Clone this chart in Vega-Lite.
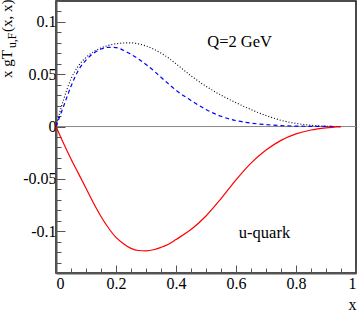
{
  "$schema": "https://vega.github.io/schema/vega-lite/v6.json",
  "width": 300,
  "height": 272,
  "autosize": "none",
  "padding": {"left": 56, "top": 1, "right": 4, "bottom": 39},
  "config": {
    "view": {"stroke": "#111", "strokeWidth": 1.5},
    "font": "Liberation Serif",
    "axis": {
      "grid": false,
      "domainColor": "#555",
      "domainWidth": 2,
      "tickColor": "#555",
      "tickWidth": 1,
      "labelFont": "Liberation Serif",
      "labelFontSize": 16,
      "labelColor": "#000",
      "labelOverlap": false,
      "titleFont": "Liberation Serif",
      "titleFontWeight": "normal",
      "titleFontSize": 16,
      "titleColor": "#000"
    }
  },
  "datasets": {
    "black": [
      {"x": 0, "y": 0}, {"x": 0.025, "y": 0.0255}, {"x": 0.05, "y": 0.0455}, {"x": 0.075, "y": 0.058},
      {"x": 0.1, "y": 0.066}, {"x": 0.125, "y": 0.0715}, {"x": 0.15, "y": 0.0752}, {"x": 0.175, "y": 0.0776},
      {"x": 0.2, "y": 0.0791}, {"x": 0.225, "y": 0.0799}, {"x": 0.25, "y": 0.08}, {"x": 0.275, "y": 0.079},
      {"x": 0.3, "y": 0.077}, {"x": 0.325, "y": 0.074}, {"x": 0.35, "y": 0.0702}, {"x": 0.375, "y": 0.0655},
      {"x": 0.4, "y": 0.06}, {"x": 0.45, "y": 0.0485}, {"x": 0.5, "y": 0.0385}, {"x": 0.55, "y": 0.03},
      {"x": 0.6, "y": 0.0228}, {"x": 0.65, "y": 0.0162}, {"x": 0.7, "y": 0.0105}, {"x": 0.75, "y": 0.006},
      {"x": 0.8, "y": 0.003}, {"x": 0.85, "y": 0.0012}, {"x": 0.9, "y": 0.0003}, {"x": 0.95, "y": 0}
    ],
    "blue": [
      {"x": 0, "y": 0}, {"x": 0.025, "y": 0.0192}, {"x": 0.05, "y": 0.0385}, {"x": 0.075, "y": 0.054},
      {"x": 0.1, "y": 0.0635}, {"x": 0.125, "y": 0.07}, {"x": 0.15, "y": 0.0741}, {"x": 0.175, "y": 0.0757},
      {"x": 0.2, "y": 0.0755}, {"x": 0.225, "y": 0.0729}, {"x": 0.25, "y": 0.069}, {"x": 0.275, "y": 0.0646},
      {"x": 0.3, "y": 0.0593}, {"x": 0.325, "y": 0.0535}, {"x": 0.35, "y": 0.0471}, {"x": 0.375, "y": 0.0408},
      {"x": 0.4, "y": 0.0347}, {"x": 0.45, "y": 0.025}, {"x": 0.5, "y": 0.0163}, {"x": 0.55, "y": 0.0098},
      {"x": 0.6, "y": 0.0057}, {"x": 0.65, "y": 0.0033}, {"x": 0.7, "y": 0.0018}, {"x": 0.75, "y": 0.0009},
      {"x": 0.8, "y": 0.0004}, {"x": 0.85, "y": 0.0002}, {"x": 0.9, "y": 0.0001}, {"x": 0.95, "y": 0}
    ],
    "red": [
      {"x": 0, "y": 0}, {"x": 0.025, "y": -0.016}, {"x": 0.05, "y": -0.031}, {"x": 0.075, "y": -0.045},
      {"x": 0.1, "y": -0.059}, {"x": 0.125, "y": -0.073}, {"x": 0.15, "y": -0.086}, {"x": 0.175, "y": -0.097},
      {"x": 0.2, "y": -0.106}, {"x": 0.225, "y": -0.112}, {"x": 0.25, "y": -0.1165}, {"x": 0.275, "y": -0.1185},
      {"x": 0.3, "y": -0.1188}, {"x": 0.325, "y": -0.1178}, {"x": 0.35, "y": -0.1155}, {"x": 0.375, "y": -0.1125},
      {"x": 0.4, "y": -0.108}, {"x": 0.45, "y": -0.0985}, {"x": 0.5, "y": -0.0855}, {"x": 0.55, "y": -0.069},
      {"x": 0.6, "y": -0.051}, {"x": 0.65, "y": -0.035}, {"x": 0.7, "y": -0.0225}, {"x": 0.75, "y": -0.0132},
      {"x": 0.8, "y": -0.007}, {"x": 0.85, "y": -0.0033}, {"x": 0.9, "y": -0.0012}, {"x": 0.95, "y": 0}
    ],
    "zero": [{"x": 0, "y": 0}, {"x": 1, "y": 0}],
    "notes": [
      {"x": 0.612, "y": 0.0765, "label": "Q=2 GeV"},
      {"x": 0.695, "y": -0.1063, "label": "u-quark"}
    ],
    "ytitle_main": [
      {"x": -0.1467, "y": 0.0464, "label": "x gT"},
      {"x": -0.1467, "y": 0.0904, "label": "(x, x)"}
    ],
    "ytitle_sub": [
      {"x": -0.133, "y": 0.0751, "label": "u,F"}
    ]
  },
  "encoding": {
    "x": {
      "field": "x",
      "type": "quantitative",
      "scale": {"domain": [0, 1], "nice": false, "zero": false},
      "axis": {
        "values": [0, 0.05, 0.1, 0.15, 0.2, 0.25, 0.3, 0.35, 0.4, 0.45, 0.5, 0.55, 0.6, 0.65, 0.7, 0.75, 0.8, 0.85, 0.9, 0.95, 1],
        "tickSize": {"condition": {"test": "abs(datum.value*5 - round(datum.value*5)) < 1e-6", "value": -8}, "value": -5},
        "labelExpr": "abs(datum.value*5 - round(datum.value*5)) < 1e-6 ? toString(round(datum.value*10)/10) : ''",
        "labelPadding": 10,
        "title": "x",
        "titleAnchor": "end",
        "titlePadding": 2
      }
    },
    "y": {
      "field": "y",
      "type": "quantitative",
      "scale": {"domain": [-0.14, 0.12], "nice": false, "zero": false},
      "axis": {
        "values": [-0.14, -0.13, -0.12, -0.11, -0.1, -0.09, -0.08, -0.07, -0.06, -0.05, -0.04, -0.03, -0.02, -0.01, 0, 0.01, 0.02, 0.03, 0.04, 0.05, 0.06, 0.07, 0.08, 0.09, 0.1, 0.11, 0.12],
        "tickSize": {"condition": {"test": "abs(datum.value*20 - round(datum.value*20)) < 1e-6", "value": -9}, "value": -5},
        "labelExpr": "abs(datum.value*20 - round(datum.value*20)) < 1e-6 ? toString(round(datum.value*100)/100) : ''",
        "labelPadding": 9,
        "title": null
      }
    }
  },
  "layer": [
    {"data": {"name": "zero"}, "mark": {"type": "line", "color": "#888", "strokeWidth": 1}},
    {"data": {"name": "black"}, "mark": {"type": "line", "color": "#000", "strokeWidth": 1.1, "strokeDash": [1, 2], "interpolate": "monotone"}},
    {"data": {"name": "blue"}, "mark": {"type": "line", "color": "#0000ff", "strokeWidth": 1.2, "strokeDash": [4, 3], "interpolate": "monotone"}},
    {"data": {"name": "red"}, "mark": {"type": "line", "color": "#ff0000", "strokeWidth": 1.2, "interpolate": "monotone"}},
    {"data": {"name": "notes"}, "mark": {"type": "text", "fontSize": 16.5, "align": "center", "baseline": "alphabetic", "color": "#000"}, "encoding": {"text": {"field": "label"}}},
    {"data": {"name": "ytitle_main"}, "mark": {"type": "text", "fontSize": 15, "angle": 270, "align": "left", "baseline": "alphabetic", "color": "#000"}, "encoding": {"text": {"field": "label"}}},
    {"data": {"name": "ytitle_sub"}, "mark": {"type": "text", "fontSize": 11.5, "angle": 270, "align": "left", "baseline": "alphabetic", "color": "#000"}, "encoding": {"text": {"field": "label"}}}
  ]
}
